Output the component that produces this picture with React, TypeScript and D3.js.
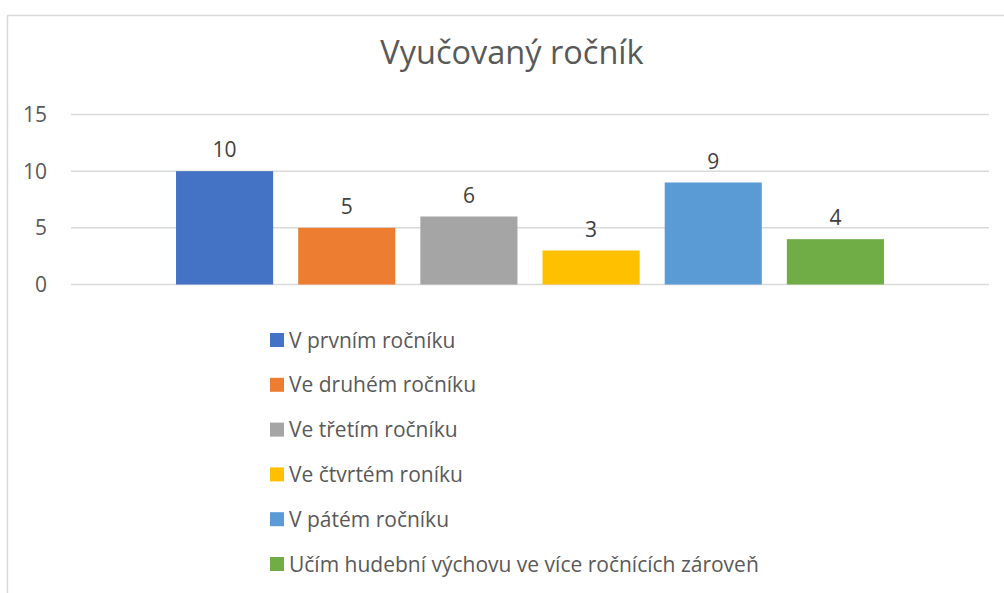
import React, { useEffect } from 'react';
import * as d3 from 'd3';

// - Chart data
const title = 'Vyučovaný ročník';
const categories = [
  'V prvním ročníku',
  'Ve druhém ročníku',
  'Ve třetím ročníku',
  'Ve čtvrtém roníku',
  'V pátém ročníku',
  'Učím hudební výchovu ve více ročnících zároveň',
];
const values = [10, 5, 6, 3, 9, 4];
const colors = ['#4472c4', '#ed7d31', '#a5a5a5', '#ffc000', '#5b9bd5', '#70ad47'];
const yTicks = [0, 5, 10, 15];

const W = 1004;
const H = 593;
const font = '"Open Sans", "Noto Sans", sans-serif';

export default function App() {
  useEffect(() => {
    document.body.style.margin = '0';
  }, []);

  const plot = { left: 71, right: 989, top: 114.5, bottom: 284.5 };

  const y = d3.scaleLinear().domain([0, 15]).range([plot.bottom, plot.top]);
  const x = d3.scaleBand<string>()
    .domain(categories)
    .range([163.5, 896.5])
    .paddingInner(0.205)
    .paddingOuter(0.1025);

  const legendY = d3.scalePoint<string>()
    .domain(categories)
    .range([340, 564]);

  return (
    <svg width={W} height={H} style={{ display: 'block', background: '#fff' }}>
      {/* chart frame */}
      <rect x={7.5} y={15.5} width={W} height={H} fill="#fff" stroke="#d9d9d9" strokeWidth={1.5} />

      <text x={512} y={64} textAnchor="middle" fontFamily={font} fontSize={32.5} fill="#595959">
        {title}
      </text>

      {/* gridlines + y labels */}
      {yTicks.map(t => (
        <g key={t}>
          <line x1={plot.left} x2={plot.right} y1={y(t)} y2={y(t)} stroke="#d9d9d9" strokeWidth={1.5} />
          <text x={47} y={y(t)} dy="0.36em" textAnchor="end" fontFamily={font} fontSize={21} fill="#595959">
            {t}
          </text>
        </g>
      ))}

      {/* bars */}
      {categories.map((c, i) => (
        <g key={c}>
          <rect x={x(c)} y={y(values[i])} width={x.bandwidth()} height={y(0) - y(values[i])} fill={colors[i]} />
          <text x={(x(c) as number) + x.bandwidth() / 2} y={y(values[i]) - 14} textAnchor="middle"
            fontFamily={font} fontSize={21} fill="#404040">
            {values[i]}
          </text>
        </g>
      ))}

      {/* legend */}
      {categories.map((c, i) => (
        <g key={'lg' + c} transform={`translate(270,${legendY(c)})`}>
          <rect x={0} y={-7} width={14} height={14} fill={colors[i]} />
          <text x={19} y={0} dy="0.36em" fontFamily={font} fontSize={21} fill="#595959">
            {c}
          </text>
        </g>
      ))}
    </svg>
  );
}
